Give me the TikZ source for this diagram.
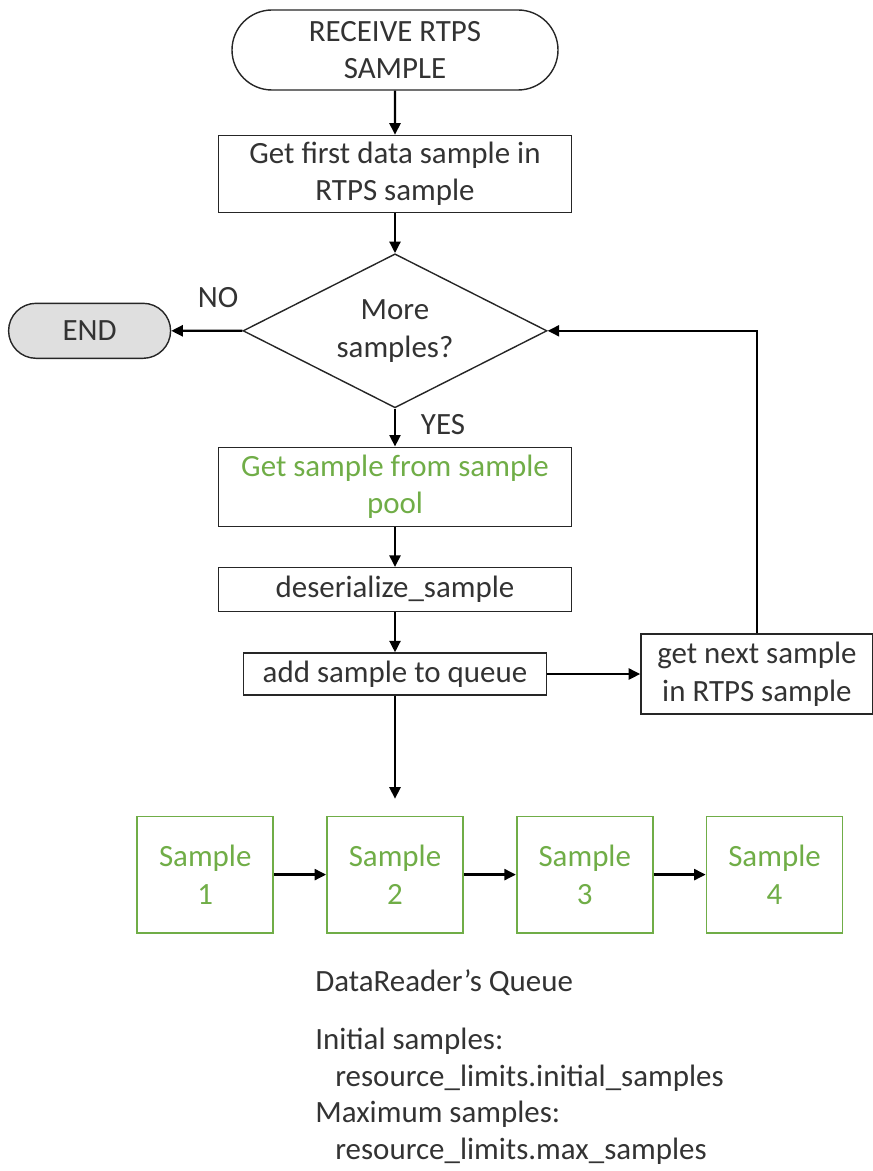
\documentclass[tikz,border=0pt]{standalone}
\usepackage{fontspec}
\setmainfont{Carlito}
\usepackage{xcolor}
\usetikzlibrary{arrows.meta,positioning,shapes.geometric,shapes.misc}

\definecolor{poolgreen}{HTML}{70AD47}
\definecolor{txtgray}{HTML}{333333}

\begin{document}
\begin{tikzpicture}[
    font=\fontsize{17.6}{21.4}\selectfont,
    text=txtgray,
    node distance=0.8cm,
    box/.style={
        draw=black!85,
        line width=0.8pt,
        minimum width=7.06cm,
        align=center,
        inner sep=0pt
    },
    term/.style={
        draw=black!85,
        line width=0.8pt,
        rounded rectangle,
        align=center,
        inner sep=0pt
    },
    decide/.style={
        draw=black!85,
        line width=0.8pt,
        diamond,
        aspect=2,
        minimum width=6.08cm,
        minimum height=3.08cm,
        align=center,
        inner sep=0pt
    },
    qbox/.style={
        draw=poolgreen,
        line width=1pt,
        text=poolgreen,
        minimum width=2.72cm,
        minimum height=2.32cm,
        align=center,
        inner sep=0pt
    },
    lbl/.style={inner sep=0pt},
    arrow/.style={-{Triangle[length=2.3mm,width=2.2mm]}, line width=1.35pt}
]
\useasboundingbox (0,0) rectangle (17.44,-23.42);

\node[term, minimum width=6.52cm, minimum height=1.6cm] (recv) at (7.9,-1.0) {RECEIVE RTPS\\SAMPLE};
\node[box, minimum height=1.54cm, below=0.88cm of recv] (first) {Get first data sample in\\RTPS sample};
\node[decide, below=0.8cm of first] (more) {More\\samples?};
\node[term, fill=gray!25, minimum width=3.24cm, minimum height=1.1cm, left=1.42cm of more] (end) {END};
\node[box, text=poolgreen, minimum height=1.58cm, below=0.76cm of more] (pool) {Get sample from sample\\pool};
\node[box, minimum height=0.88cm, below=of pool] (deser) {deserialize\_sample};
\node[box, minimum width=6.06cm, minimum height=0.84cm, below=of deser] (addq) {add sample to queue};
\node[box, minimum width=4.64cm, minimum height=1.6cm, right=1.86cm of addq] (next) {get next sample\\in RTPS sample};

\node[lbl] (nolbl) at (4.36,-5.96) {NO};
\node[lbl] (yeslbl) at (8.86,-8.5) {YES};

\draw[arrow] (recv) -- (first);
\draw[arrow] (first) -- (more);
\draw[arrow] (more) -- (end);
\draw[arrow] (more) -- (pool);
\draw[arrow] (pool) -- (deser);
\draw[arrow] (deser) -- (addq);
\draw[arrow] (addq) -- (next);
\draw[arrow] (next.north) |- (more.east);

\coordinate[below=2.06cm of addq.south] (qin);
\draw[arrow] (addq) -- (qin);

\node[qbox, below=2.4cm of addq] (s2) {Sample\\2};
\node[qbox, left=1.04cm of s2] (s1) {Sample\\1};
\node[qbox, right=1.04cm of s2] (s3) {Sample\\3};
\node[qbox, right=1.04cm of s3] (s4) {Sample\\4};

\draw[arrow] (s1) -- (s2);
\draw[arrow] (s2) -- (s3);
\draw[arrow] (s3) -- (s4);

\node[lbl, anchor=west] (qname) at (6.3,-19.66) {DataReader’s Queue};
\node[lbl, anchor=north west, align=left, font=\fontsize{17.6}{20.9}\selectfont] (limits) at (6.3,-20.55) {Initial samples:\\
\hspace*{0.4cm}resource\_limits.initial\_samples\\
Maximum samples:\\
\hspace*{0.4cm}resource\_limits.max\_samples};
\end{tikzpicture}
\end{document}
